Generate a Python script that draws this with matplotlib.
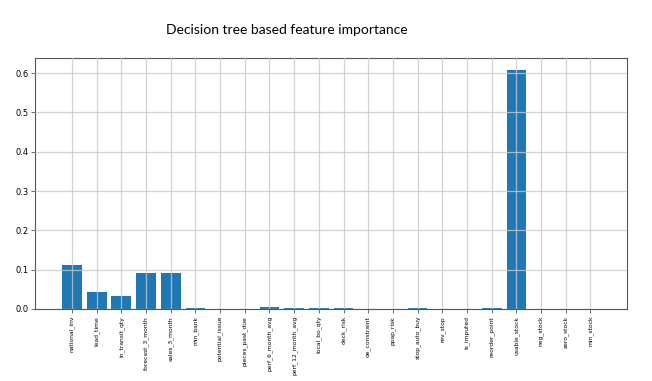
import matplotlib
matplotlib.use("Agg")
import matplotlib.pyplot as plt
import numpy as np

features = ["national_inv", "lead_time", "in_transit_qty", "forecast_3_month",
            "sales_3_month", "min_bank", "potential_issue", "pieces_past_due",
            "perf_6_month_avg", "perf_12_month_avg", "local_bo_qty", "deck_risk",
            "oe_constraint", "ppap_risk", "stop_auto_buy", "rev_stop",
            "is_imputed", "reorder_point", "usable_stock", "neg_stock",
            "zero_stock", "min_stock"]
importance = [0.113, 0.043, 0.034, 0.091, 0.091, 0.002, 0.0, 0.0,
              0.006, 0.002, 0.002, 0.002, 0.0, 0.0, 0.002, 0.0,
              0.0, 0.002, 0.608, 0.0, 0.0, 0.0]
yticks = [0.0, 0.1, 0.2, 0.3, 0.4, 0.5, 0.6]

fig = plt.figure(figsize=(6.52, 3.81), dpi=100)
ax = fig.add_axes([0.054, 0.189, 0.908, 0.659])
x = np.arange(len(features))
ax.bar(x, importance, width=0.8, color="#1f77b4", zorder=1)
ax.set_axisbelow(False)
ax.grid(True, color="#c8c8c8", linewidth=0.9, alpha=0.8, zorder=2)
ax.set_xticks(x)
ax.set_xticklabels(features, rotation=90, fontsize=4.3,
                   family=["Liberation Sans Narrow", "DejaVu Sans"])
ax.set_yticks(yticks)
ax.set_yticklabels([f"{v:.1f}" for v in yticks], fontsize=6)
ax.tick_params(axis="both", length=3, width=0.6, color="#555555", pad=2)
for s in ax.spines.values():
    s.set_color("#555555")
    s.set_linewidth(0.8)
ax.margins(x=0.05)
fig.text(0.44, 0.92, "Decision tree based feature importance", ha="center", va="center",
         fontsize=10, family=["Lato", "DejaVu Sans"])
fig.savefig("out.png", dpi=100)
